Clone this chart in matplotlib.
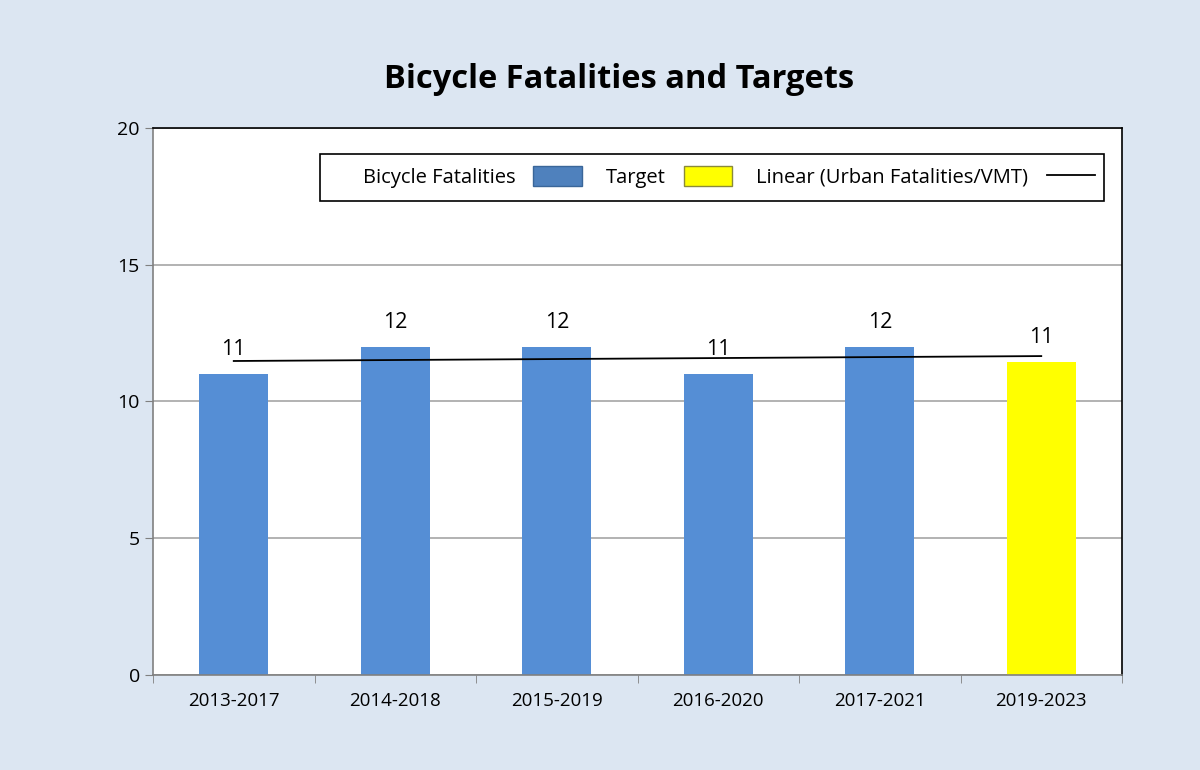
import numpy as np
import matplotlib.pyplot as plt
from matplotlib.patches import Patch, Rectangle
from matplotlib.lines import Line2D

plt.rcParams['font.family'] = ['Open Sans', 'DejaVu Sans']

# chart data
periods = ['2013-2017', '2014-2018', '2015-2019', '2016-2020', '2017-2021', '2019-2023']
fatalities = [11, 12, 12, 11, 12, 11.44]
labels = ['11', '12', '12', '11', '12', '11']
is_target = [False, False, False, False, False, True]
trend_ends = [11.48, 11.66]   # linear trend at first and last period

bg = '#DCE6F2'
blue = '#558ED5'
yellow = '#FFFF00'

fig = plt.figure(figsize=(12, 7.7), dpi=100, facecolor=bg)
ax = fig.add_axes([0.1275, 0.1234, 0.8075, 0.7104])
ax.set_facecolor('white')

x = np.arange(len(periods))
colors = [yellow if t else blue for t in is_target]
ax.bar(x, fatalities, width=0.43, color=colors, zorder=2)

for xi, v, lab in zip(x, fatalities, labels):
    ax.text(xi, v + 0.5, lab, ha='center', va='bottom', fontsize=15.5, zorder=4)

ax.plot([x[0], x[-1]], trend_ends, color='black', lw=1.3, zorder=3)

ax.set_xlim(-0.5, len(periods) - 0.5)
ax.set_ylim(0, 20)
ax.set_yticks([0, 5, 10, 15, 20])
ax.set_xticks(x)
ax.set_xticklabels(periods, fontsize=13.5)
ax.set_xticks(np.arange(-0.5, len(periods)), minor=True)
ax.tick_params(axis='x', which='major', length=0, pad=12)
ax.tick_params(axis='x', which='minor', length=6, direction='out', color='#808080')
ax.tick_params(axis='y', labelsize=14, length=6, direction='out', color='#808080')
ax.yaxis.grid(True, color='#A6A6A6', lw=1.2, zorder=0)
ax.set_axisbelow(True)
for s in ax.spines.values():
    s.set_color('black')
    s.set_linewidth(1.2)
ax.spines['bottom'].set_color('#808080')
ax.spines['left'].set_color('#808080')

fig.text(0.5155, 0.897, 'Bicycle Fatalities and Targets', ha='center', va='center',
         fontsize=23.5, fontweight='bold')

# legend frame drawn separately so it can be wider than its entries
ax.add_patch(Rectangle((0.172, 0.867), 0.809, 0.086, transform=ax.transAxes,
                       facecolor='white', edgecolor='black', lw=1.2, zorder=5))
handles = [Patch(facecolor='#4F81BD', edgecolor='#3A6699'),
           Patch(facecolor=yellow, edgecolor='#8A8A3A'),
           Line2D([0], [0], color='black', lw=1.3)]
names = ['Bicycle Fatalities', 'Target', 'Linear (Urban Fatalities/VMT)']
leg = ax.legend(handles, names, loc='center right', bbox_to_anchor=(0.972, 0.91),
                ncol=3, markerfirst=False, fontsize=14.5, frameon=False,
                handlelength=2.4, handleheight=1.1,
                columnspacing=1.2, borderpad=0, handletextpad=0.9,
                borderaxespad=0)
leg.set_zorder(6)

fig.savefig('out.png', dpi=100, facecolor=bg)
